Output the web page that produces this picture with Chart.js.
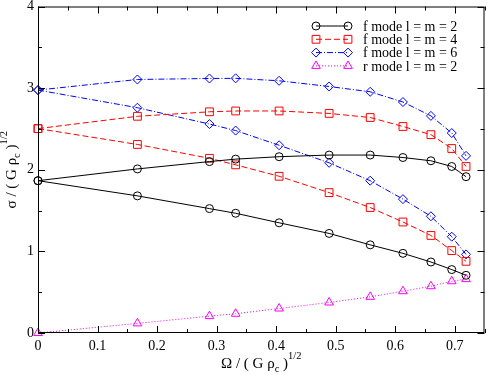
<!DOCTYPE html>
<html>
<head>
<meta charset="utf-8">
<script src="https://cdn.jsdelivr.net/npm/chart.js@4"></script>
<style>
    body { margin: 0; background: #fff; }
</style>
</head>
<body>
<canvas id="modeChart" width="491" height="375"></canvas>
<script>
const omega = [0, 0.167, 0.288, 0.332, 0.405, 0.489, 0.558, 0.613, 0.660, 0.695, 0.719];

const fL2Upper = [1.866, 2.01, 2.10, 2.13, 2.16, 2.18, 2.18, 2.15, 2.11, 2.04, 1.915];
const fL2Lower = [1.866, 1.68, 1.524, 1.467, 1.35, 1.22, 1.08, 0.976, 0.87, 0.777, 0.707];
const fL4Upper = [2.504, 2.655, 2.71, 2.72, 2.72, 2.69, 2.64, 2.53, 2.43, 2.26, 2.04];
const fL4Lower = [2.504, 2.31, 2.14, 2.06, 1.92, 1.72, 1.537, 1.36, 1.195, 1.01, 0.878];
const fL6Upper = [2.976, 3.106, 3.118, 3.12, 3.09, 3.02, 2.955, 2.83, 2.66, 2.45, 2.17];
const fL6Lower = [2.976, 2.76, 2.56, 2.48, 2.30, 2.085, 1.866, 1.64, 1.43, 1.18, 0.963];
const rL2 = [0, 0.118, 0.207, 0.236, 0.30, 0.374, 0.443, 0.512, 0.573, 0.634, 0.66];

const xTicks = [0, 0.1, 0.2, 0.3, 0.4, 0.5, 0.6, 0.7];
const yTicks = [0, 1, 2, 3, 4];

const modes = [
    { label: "f mode l = m = 2", color: "#000000", dash: [], style: "circle", radius: 4, series: [fL2Upper, fL2Lower] },
    { label: "f mode l = m = 4", color: "#ff0000", dash: [6, 3], style: "rect", radius: 5.5, series: [fL4Upper, fL4Lower] },
    { label: "f mode l = m = 6", color: "#0000ff", dash: [6, 2, 1, 2], style: "rectRot", radius: 4.5, series: [fL6Upper, fL6Lower] },
    { label: "r mode l = m = 2", color: "#ff00ff", dash: [1, 2], style: "triangle", radius: 5, series: [rL2] }
];

const serif = "'Liberation Serif', 'DejaVu Serif', serif";

function toPoints(values) {
    return omega.map((x, i) => ({ x: x, y: values[i] }));
}

const datasets = [];
modes.forEach(mode => {
    mode.series.forEach(values => {
        datasets.push({
            label: mode.label,
            data: toPoints(values),
            borderColor: mode.color,
            borderWidth: 1,
            borderDash: mode.dash,
            pointStyle: mode.style,
            pointRadius: mode.radius,
            pointBorderColor: mode.color,
            pointBackgroundColor: "rgba(255,255,255,0)",
            pointBorderWidth: 1,
            tension: 0,
            clip: false
        });
    });
});

// text with sub/superscripts, centred on (0,0)
function drawRich(ctx, parts, size) {
    let total = 0;
    parts.forEach(p => {
        ctx.font = (p.small ? size * 0.7 : size) + "px " + serif;
        p.w = ctx.measureText(p.t).width;
        total += p.w;
    });
    let x = -total / 2;
    ctx.textBaseline = "middle";
    ctx.textAlign = "left";
    parts.forEach(p => {
        ctx.font = (p.small ? size * 0.7 : size) + "px " + serif;
        ctx.fillText(p.t, x, p.dy || 0);
        x += p.w;
    });
}

const decorations = {
    id: "decorations",
    afterDraw(chart) {
        const ctx = chart.ctx;
        const area = chart.chartArea;
        const xs = chart.scales.x;
        const ys = chart.scales.y;
        ctx.save();
        ctx.strokeStyle = "#000";
        ctx.fillStyle = "#000";
        ctx.lineWidth = 1;
        ctx.setLineDash([]);

        // frame
        ctx.strokeRect(area.left + 0.5, area.top + 0.5, area.right - area.left - 1, area.bottom - area.top - 1);

        // inward ticks on all four sides
        ctx.beginPath();
        for (let v = 0; v <= 0.75 + 1e-9; v += 0.05) {
            const px = Math.round(xs.getPixelForValue(v)) + 0.5;
            const len = Math.abs(v * 10 - Math.round(v * 10)) < 1e-6 ? 7 : 4;
            ctx.moveTo(px, area.bottom);
            ctx.lineTo(px, area.bottom - len);
            ctx.moveTo(px, area.top);
            ctx.lineTo(px, area.top + len);
        }
        for (let v = 0; v <= 4 + 1e-9; v += 0.5) {
            const py = Math.round(ys.getPixelForValue(v)) + 0.5;
            const len = Math.abs(v - Math.round(v)) < 1e-6 ? 7 : 4;
            ctx.moveTo(area.left, py);
            ctx.lineTo(area.left + len, py);
            ctx.moveTo(area.right, py);
            ctx.lineTo(area.right - len, py);
        }
        ctx.stroke();

        // axis titles
        ctx.save();
        ctx.translate((area.left + area.right) / 2, 364);
        drawRich(ctx, [
            { t: "Ω / ( G ρ" },
            { t: "c", small: true, dy: 5 },
            { t: " )" },
            { t: "1/2", small: true, dy: -8 }
        ], 15);
        ctx.restore();

        ctx.save();
        ctx.translate(12, (area.top + area.bottom) / 2);
        ctx.rotate(-Math.PI / 2);
        drawRich(ctx, [
            { t: "σ / ( G ρ" },
            { t: "c", small: true, dy: 5 },
            { t: " )" },
            { t: "1/2", small: true, dy: -8 }
        ], 15);
        ctx.restore();

        // legend with line sample and a marker at each end
        modes.forEach((mode, i) => {
            const y = 26 + i * 13.3;
            const x1 = 316, x2 = 348;
            ctx.strokeStyle = mode.color;
            ctx.setLineDash(mode.dash);
            ctx.beginPath();
            ctx.moveTo(x1, y);
            ctx.lineTo(x2, y);
            ctx.stroke();
            ctx.setLineDash([]);
            ctx.fillStyle = "rgba(255,255,255,0)";
            [x1, x2].forEach(px => {
                Chart.helpers.drawPoint(ctx, {
                    pointStyle: mode.style, radius: mode.radius, rotation: 0, borderWidth: 1
                }, px, y);
            });
            ctx.fillStyle = "#000";
            ctx.font = "14px " + serif;
            ctx.textAlign = "left";
            ctx.textBaseline = "middle";
            ctx.fillText(mode.label, 363, y + 1);
        });
        ctx.restore();
    }
};

new Chart(document.getElementById("modeChart"), {
    type: "line",
    data: { datasets: datasets },
    options: {
        responsive: false,
        animation: false,
        layout: { padding: { top: 5, right: 3, left: 0, bottom: 0 } },
        plugins: {
            legend: { display: false },
            tooltip: { enabled: false }
        },
        scales: {
            x: {
                type: "linear",
                min: 0,
                max: 0.75,
                afterFit: s => { s.height = 42; s.paddingLeft = 0; s.paddingRight = 0; },
                afterBuildTicks: s => { s.ticks = xTicks.map(v => ({ value: v })); },
                grid: { display: false, drawTicks: false },
                border: { display: false },
                ticks: {
                    padding: 5,
                    color: "#000",
                    font: { family: serif, size: 14 },
                    maxRotation: 0,
                    callback: v => String(Math.round(v * 10) / 10)
                }
            },
            y: {
                type: "linear",
                min: 0,
                max: 4,
                afterFit: s => { s.width = 38; s.paddingTop = 0; s.paddingBottom = 0; },
                afterBuildTicks: s => { s.ticks = yTicks.map(v => ({ value: v })); },
                grid: { display: false, drawTicks: false },
                border: { display: false },
                ticks: {
                    padding: 4,
                    color: "#000",
                    font: { family: serif, size: 14 },
                    callback: v => String(v)
                }
            }
        }
    },
    plugins: [decorations]
});
</script>
</body>
</html>
